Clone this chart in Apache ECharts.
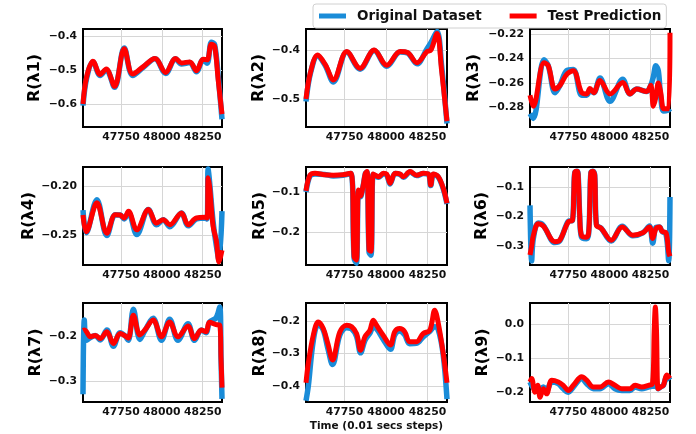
<!DOCTYPE html>
<html>
<head>
<meta charset="utf-8">
<script src="https://cdn.jsdelivr.net/npm/echarts@6/dist/echarts.min.js"></script>
<style>
  html, body { margin: 0; padding: 0; background: #fff; }
  #chart { width: 696px; height: 434px; }
</style>
</head>
<body>
<div id="chart"></div>
<script>
  // time steps (x) and the two series for each of the 9 panels
  const t1 = [47518, 47540, 47579, 47623, 47660, 47711, 47770, 47822, 47887, 47958, 48023, 48084, 48120, 48171, 48212, 48252, 48277, 48303, 48323, 48345, 48368]
  const orig1 = [-0.605, -0.525, -0.476, -0.516, -0.499, -0.551, -0.435, -0.516, -0.492, -0.467, -0.510, -0.467, -0.482, -0.478, -0.505, -0.470, -0.480, -0.418, -0.425, -0.520, -0.645]
  const pred1 = [-0.600, -0.520, -0.474, -0.513, -0.497, -0.548, -0.437, -0.512, -0.490, -0.466, -0.507, -0.466, -0.479, -0.476, -0.502, -0.468, -0.470, -0.424, -0.430, -0.530, -0.630]

  const t2 = [47518, 47545, 47588, 47635, 47683, 47764, 47844, 47929, 48005, 48086, 48130, 48187, 48247, 48271, 48308, 48335, 48368]
  const orig2 = [-0.505, -0.447, -0.412, -0.432, -0.465, -0.404, -0.439, -0.401, -0.433, -0.404, -0.406, -0.428, -0.398, -0.385, -0.362, -0.430, -0.550]
  const pred2 = [-0.500, -0.445, -0.410, -0.430, -0.461, -0.403, -0.437, -0.400, -0.431, -0.403, -0.405, -0.426, -0.403, -0.400, -0.366, -0.440, -0.545]

  const t3 = [47518, 47538, 47603, 47629, 47670, 47700, 47741, 47781, 47832, 47862, 47882, 47905, 47943, 48004, 48081, 48125, 48166, 48226, 48251, 48267, 48282, 48297, 48312, 48330, 48360, 48368]
  const orig3 = [-0.285, -0.289, -0.241, -0.246, -0.268, -0.262, -0.250, -0.249, -0.270, -0.270, -0.266, -0.268, -0.256, -0.275, -0.257, -0.269, -0.265, -0.267, -0.262, -0.255, -0.246, -0.250, -0.272, -0.283, -0.282, -0.281]
  const pred3 = [-0.270, -0.279, -0.2435, -0.246, -0.265, -0.262, -0.253, -0.250, -0.268, -0.269, -0.2646, -0.268, -0.258, -0.269, -0.2597, -0.269, -0.265, -0.267, -0.262, -0.279, -0.272, -0.260, -0.268, -0.281, -0.281, -0.219]

  const t4 = [47518, 47538, 47603, 47664, 47715, 47745, 47770, 47796, 47847, 47918, 47968, 48009, 48049, 48120, 48161, 48212, 48263, 48277, 48283, 48292, 48313, 48333, 48350, 48368]
  const orig4 = [-0.224, -0.247, -0.2135, -0.250, -0.2286, -0.229, -0.233, -0.2265, -0.249, -0.2234, -0.239, -0.2338, -0.241, -0.2269, -0.240, -0.233, -0.232, -0.233, -0.182, -0.195, -0.235, -0.260, -0.275, -0.225]
  const pred4 = [-0.229, -0.246, -0.2166, -0.2476, -0.2286, -0.229, -0.232, -0.2252, -0.2441, -0.2234, -0.2372, -0.2338, -0.239, -0.2269, -0.239, -0.232, -0.2314, -0.232, -0.191, -0.200, -0.240, -0.255, -0.277, -0.265]

  const t5 = [47518, 47542, 47572, 47630, 47683, 47740, 47788, 47808, 47822, 47834, 47846, 47862, 47876, 47886, 47898, 47910, 47922, 47936, 47956, 47984, 48004, 48025, 48055, 48085, 48105, 48145, 48185, 48226, 48256, 48270, 48286, 48316, 48346, 48368]
  const orig5 = [-0.100, -0.060, -0.055, -0.056, -0.060, -0.058, -0.054, -0.266, -0.278, -0.098, -0.112, -0.086, -0.054, -0.050, -0.250, -0.258, -0.056, -0.060, -0.063, -0.055, -0.057, -0.080, -0.054, -0.056, -0.063, -0.050, -0.059, -0.054, -0.056, -0.084, -0.056, -0.063, -0.093, -0.130]
  const pred5 = [-0.097, -0.058, -0.053, -0.057, -0.058, -0.057, -0.053, -0.262, -0.270, -0.095, -0.110, -0.085, -0.053, -0.049, -0.245, -0.248, -0.055, -0.058, -0.062, -0.053, -0.055, -0.078, -0.053, -0.055, -0.062, -0.049, -0.058, -0.053, -0.055, -0.0825, -0.055, -0.062, -0.091, -0.128]

  const t6 = [47518, 47528, 47538, 47568, 47599, 47669, 47699, 47750, 47776, 47784, 47790, 47803, 47810, 47820, 47830, 47860, 47874, 47882, 47888, 47900, 47911, 47921, 47951, 48011, 48078, 48142, 48203, 48243, 48263, 48283, 48304, 48320, 48344, 48360, 48368]
  const orig6 = [-0.162, -0.350, -0.275, -0.222, -0.230, -0.288, -0.282, -0.216, -0.212, -0.120, -0.050, -0.046, -0.055, -0.200, -0.268, -0.275, -0.258, -0.140, -0.050, -0.046, -0.060, -0.226, -0.240, -0.283, -0.233, -0.265, -0.255, -0.232, -0.290, -0.236, -0.235, -0.250, -0.260, -0.350, -0.134]
  const pred6 = [-0.330, -0.300, -0.265, -0.224, -0.232, -0.285, -0.280, -0.218, -0.212, -0.120, -0.050, -0.046, -0.055, -0.200, -0.263, -0.270, -0.255, -0.140, -0.050, -0.046, -0.060, -0.229, -0.240, -0.280, -0.235, -0.263, -0.255, -0.235, -0.274, -0.240, -0.235, -0.250, -0.255, -0.320, -0.335]

  const t7 = [47518, 47526, 47538, 47563, 47593, 47623, 47664, 47704, 47745, 47775, 47795, 47826, 47866, 47896, 47947, 47998, 48048, 48099, 48160, 48200, 48241, 48271, 48291, 48332, 48354, 48362, 48368]
  const orig7 = [-0.330, -0.165, -0.210, -0.204, -0.199, -0.209, -0.187, -0.223, -0.193, -0.200, -0.210, -0.141, -0.208, -0.189, -0.161, -0.210, -0.163, -0.210, -0.173, -0.210, -0.187, -0.193, -0.170, -0.160, -0.136, -0.250, -0.340]
  const pred7 = [-0.188, -0.187, -0.190, -0.202, -0.199, -0.206, -0.191, -0.217, -0.195, -0.200, -0.205, -0.154, -0.198, -0.187, -0.165, -0.202, -0.169, -0.202, -0.178, -0.206, -0.187, -0.191, -0.170, -0.175, -0.176, -0.250, -0.315]

  const t8 = [47518, 47532, 47562, 47592, 47622, 47650, 47678, 47722, 47763, 47793, 47823, 47847, 47873, 47903, 47923, 47943, 47983, 48027, 48053, 48083, 48113, 48143, 48184, 48224, 48264, 48294, 48314, 48344, 48368]
  const orig8 = [-0.445, -0.400, -0.260, -0.210, -0.228, -0.285, -0.334, -0.243, -0.221, -0.224, -0.248, -0.298, -0.260, -0.238, -0.220, -0.224, -0.256, -0.287, -0.243, -0.231, -0.243, -0.270, -0.269, -0.249, -0.232, -0.218, -0.225, -0.300, -0.440]
  const pred8 = [-0.390, -0.330, -0.244, -0.203, -0.223, -0.270, -0.320, -0.234, -0.213, -0.218, -0.239, -0.290, -0.249, -0.229, -0.198, -0.213, -0.244, -0.274, -0.233, -0.2235, -0.233, -0.264, -0.264, -0.239, -0.229, -0.167, -0.203, -0.295, -0.390]

  const t9 = [47518, 47528, 47548, 47565, 47579, 47599, 47619, 47650, 47690, 47720, 47751, 47781, 47832, 47862, 47903, 47943, 47994, 48034, 48075, 48125, 48156, 48196, 48237, 48262, 48272, 48279, 48286, 48296, 48310, 48328, 48348, 48368]
  const orig9 = [-0.170, -0.180, -0.190, -0.185, -0.195, -0.185, -0.195, -0.170, -0.175, -0.190, -0.200, -0.185, -0.160, -0.175, -0.190, -0.190, -0.175, -0.190, -0.195, -0.195, -0.185, -0.190, -0.185, -0.183, -0.183, -0.183, -0.183, -0.190, -0.185, -0.180, -0.155, -0.165]
  const pred9 = [-0.170, -0.160, -0.200, -0.180, -0.215, -0.190, -0.205, -0.165, -0.170, -0.180, -0.195, -0.180, -0.155, -0.165, -0.185, -0.185, -0.170, -0.180, -0.190, -0.190, -0.180, -0.185, -0.180, -0.175, -0.020, 0.050, -0.020, -0.190, -0.185, -0.180, -0.150, -0.160]

  // axes
  const xTicks = [47750, 48000, 48250]
  const xMin = 47518
  const xMax = 48368
  const yTicks1 = [-0.6, -0.5, -0.4]
  const yTicks2 = [-0.5, -0.4]
  const yTicks3 = [-0.28, -0.26, -0.24, -0.22]
  const yTicks4 = [-0.25, -0.20]
  const yTicks5 = [-0.2, -0.1]
  const yTicks6 = [-0.3, -0.2, -0.1]
  const yTicks7 = [-0.3, -0.2]
  const yTicks8 = [-0.4, -0.3, -0.2]
  const yTicks9 = [-0.2, -0.1, 0.0]
  const yMin = [-0.668, -0.557, -0.296, -0.280, -0.2825, -0.364, -0.347, -0.449, -0.229]
  const yMax = [-0.379, -0.357, -0.216, -0.180, -0.0375, -0.032, -0.127, -0.145, 0.062]
  const yDigits = [1, 1, 2, 2, 1, 1, 1, 1, 1]

  const panels = [
    [t1, orig1, pred1, yTicks1], [t2, orig2, pred2, yTicks2], [t3, orig3, pred3, yTicks3],
    [t4, orig4, pred4, yTicks4], [t5, orig5, pred5, yTicks5], [t6, orig6, pred6, yTicks6],
    [t7, orig7, pred7, yTicks7], [t8, orig8, pred8, yTicks8], [t9, orig9, pred9, yTicks9]
  ]

  const colLeft = [83, 306, 530]
  const colWidth = [139, 141, 140]
  const rowTop = [29, 167, 303]
  const rowHeight = [98, 98, 99]
  const nameGaps = [40, 39, 48, 46, 38, 40, 39, 38, 39]

  const BLUE = '#1a8cd8'
  const RED = '#ff0000'
  const FONT = 'DejaVu Sans'
  const frameLine = { show: true, onZero: false, lineStyle: { color: '#000', width: 2 } }

  let grids = [], xAxes = [], yAxes = [], series = []

  panels.forEach((p, i) => {
    let row = Math.floor(i / 3), col = i % 3
    grids.push({
      left: colLeft[col], top: rowTop[row], width: colWidth[col], height: rowHeight[row],
      show: true, borderColor: '#000', borderWidth: 2, backgroundColor: '#fff'
    })
    xAxes.push({
      type: 'value', gridIndex: i, min: xMin, max: xMax,
      name: i === 7 ? 'Time (0.01 secs steps)' : '',
      nameLocation: 'middle', nameGap: 19,
      nameTextStyle: { fontFamily: FONT, fontWeight: 'bold', fontSize: 10.5, color: '#111' },
      axisLine: frameLine,
      axisTick: { show: false, customValues: xTicks },
      axisLabel: {
        customValues: xTicks, margin: 5, fontFamily: FONT, fontWeight: 'bold', fontSize: 10.8, color: '#111',
        formatter: v => String(v)
      },
      splitLine: { show: true, lineStyle: { color: '#d6d6d6', width: 1 } }
    })
    yAxes.push({
      type: 'value', gridIndex: i, min: yMin[i], max: yMax[i],
      name: 'R(λ' + (i + 1) + ')',
      nameLocation: 'middle', nameGap: nameGaps[i],
      nameTextStyle: { fontFamily: FONT, fontWeight: 'bold', fontSize: 16, color: '#000' },
      axisLine: frameLine,
      axisTick: { show: false, customValues: p[3] },
      axisLabel: {
        customValues: p[3], margin: 6, fontFamily: FONT, fontWeight: 'bold', fontSize: 10.8, color: '#111',
        formatter: v => v.toFixed(yDigits[i]).replace('-', '\u2212')
      },
      splitLine: { show: true, lineStyle: { color: '#d6d6d6', width: 1 } }
    })
    series.push({
      name: 'Original Dataset', type: 'line', xAxisIndex: i, yAxisIndex: i,
      data: p[0].map((x, k) => [x, p[1][k]]),
      showSymbol: false, smooth: 0.35, z: 2,
      itemStyle: { color: BLUE },
      lineStyle: { color: BLUE, width: 5.5 }
    })
    series.push({
      name: 'Test Prediction', type: 'line', xAxisIndex: i, yAxisIndex: i,
      data: p[0].map((x, k) => [x, p[2][k]]),
      showSymbol: false, smooth: 0.35, z: 3,
      itemStyle: { color: RED },
      lineStyle: { color: RED, width: 5 }
    })
  })

  let myChart = echarts.init(document.getElementById('chart'))
  myChart.setOption({
    animation: false,
    backgroundColor: '#fff',
    legend: {
      data: ['Original Dataset', 'Test Prediction'],
      left: 313, top: 4,
      icon: 'rect', itemWidth: 27, itemHeight: 5, itemGap: 28,
      padding: [5, 5, 5, 6],
      borderColor: '#d0d0d0', borderWidth: 1, borderRadius: 3,
      backgroundColor: '#fff',
      textStyle: { fontFamily: FONT, fontWeight: 'bold', fontSize: 13.5, color: '#111', padding: [0, 0, 0, 6] }
    },
    grid: grids,
    xAxis: xAxes,
    yAxis: yAxes,
    series: series
  })
</script>
</body>
</html>
